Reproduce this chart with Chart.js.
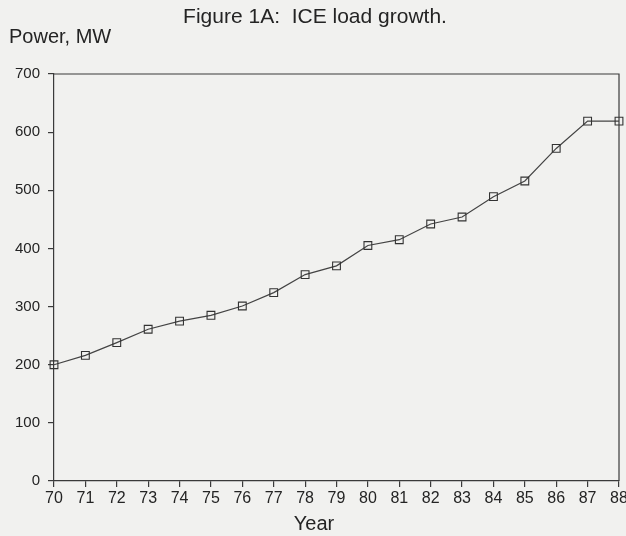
<!DOCTYPE html>
<html>
<head>
<meta charset="utf-8">
<script src="https://cdn.jsdelivr.net/npm/chart.js@4"></script>
<style>
html,body{margin:0;padding:0;background:#f1f1ef;}
#wrap{width:626px;height:536px;position:relative;}
canvas{display:block;}
</style>
</head>
<body>
<div id="wrap"><canvas id="c" width="626" height="536"></canvas></div>
<script>
const years = ["70","71","72","73","74","75","76","77","78","79","80","81","82","83","84","85","86","87","88"];
const powerMW = [200,216,238,261,275,285,301,324,355,370,405,415,442,454,489,516,572,619,619];
const yTicks = [0,100,200,300,400,500,600,700];
const titleText = "Figure 1A:  ICE load growth.";
const yAxisLabel = "Power, MW";
const xAxisLabel = "Year";

const INK = "#242424";
const FONT = "'Liberation Sans', Arial, Helvetica, sans-serif";

const textPlugin = {
  id: 'texts',
  afterDraw(chart) {
    const ctx = chart.ctx;
    const a = chart.chartArea;
    ctx.save();
    ctx.strokeStyle = "#3a3a3a";
    ctx.lineWidth = 1.2;
    ctx.beginPath();
    ctx.moveTo(a.left, a.top);
    ctx.lineTo(a.right, a.top);
    ctx.lineTo(a.right, a.bottom);
    ctx.stroke();
    ctx.fillStyle = INK;
    ctx.textBaseline = "middle";
    ctx.font = "21px " + FONT;
    ctx.textAlign = "center";
    ctx.fillText(titleText, 315, 17);
    ctx.textAlign = "left";
    ctx.font = "20px " + FONT;
    ctx.fillText(yAxisLabel, 9, 37);
    ctx.textAlign = "center";
    ctx.font = "20px " + FONT;
    ctx.fillText(xAxisLabel, 314, 524);
    ctx.restore();
  }
};

new Chart(document.getElementById('c'), {
  type: 'line',
  data: {
    labels: years,
    datasets: [{
      data: powerMW,
      borderColor: "#444",
      borderWidth: 1.2,
      pointStyle: 'rect',
      pointRadius: 5.5,
      pointBorderWidth: 1.1,
      pointBorderColor: "#333",
      pointBackgroundColor: 'rgba(0,0,0,0)',
      tension: 0,
      fill: false
    }]
  },
  options: {
    responsive: false,
    animation: false,
    events: [],
    layout: { padding: { left: 0, right: 7, top: 74, bottom: 0 } },
    plugins: { legend: { display: false }, tooltip: { enabled: false }, title: { display: false } },
    scales: {
      x: {
        type: 'category',
        offset: false,
        grid: { display: true, drawOnChartArea: false, drawTicks: true, tickLength: 6, color: "#3a3a3a", lineWidth: 1.2 },
        border: { display: true, color: "#3a3a3a", width: 1.2 },
        ticks: { color: INK, font: { family: FONT, size: 16 }, padding: 2, maxRotation: 0, autoSkip: false },
        afterFit(s) { s.height = 55; s.paddingRight = 0; s.paddingLeft = 0; }
      },
      y: {
        min: 0, max: 700,
        afterBuildTicks(s) { s.ticks = yTicks.map(v => ({ value: v })); },
        grid: { display: true, drawOnChartArea: false, drawTicks: true, tickLength: 6, color: "#3a3a3a", lineWidth: 1.2 },
        border: { display: true, color: "#3a3a3a", width: 1.2 },
        ticks: { color: INK, font: { family: FONT, size: 15 }, padding: 8 },
        afterFit(s) { s.width = 54; s.paddingTop = 0; s.paddingBottom = 0; }
      }
    }
  },
  plugins: [textPlugin]
});
</script>
</body>
</html>
